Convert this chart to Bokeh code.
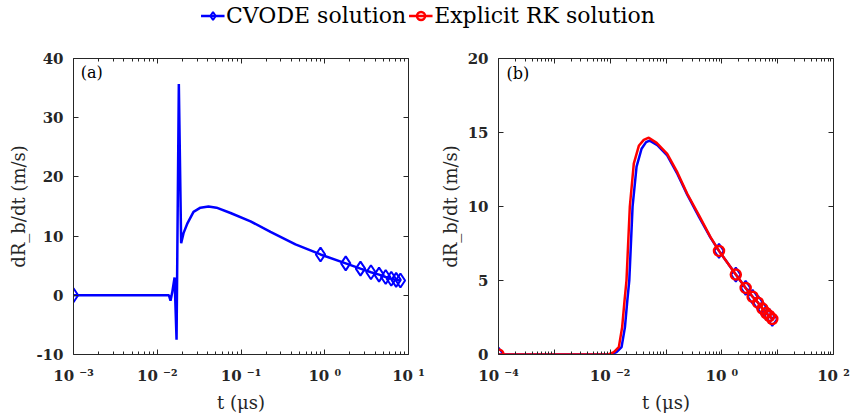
from bokeh.plotting import figure
from bokeh.models import (FixedTicker, CustomJSTickFormatter, LogAxis, LinearAxis,
                          Legend, LegendItem, Label)
from bokeh.layouts import column, row
from bokeh.embed import file_html
from bokeh.resources import INLINE

# ---------------- data ----------------
# panel (a): CVODE solution
ta = [0.001, 0.002, 0.005, 0.01, 0.0138, 0.0144, 0.0151, 0.0161, 0.0170, 0.0181,
      0.0193, 0.0206, 0.0230, 0.0271, 0.0328, 0.0409, 0.0510, 0.0750, 0.130, 0.225,
      0.447, 0.89, 1.78, 2.67, 3.56, 4.45, 5.34, 6.23, 7.12, 8.01]
ya = [0, 0, 0, 0, 0, -0.9, 0.5, 3.0, -7.5, 35.7,
      8.8, 10.5, 12.2, 14.1, 14.8, 15.0, 14.8, 13.9, 12.5, 10.7,
      8.6, 6.9, 5.4, 4.5, 3.9, 3.5, 3.1, 2.8, 2.6, 2.5]
ta_mk = [0.001, 0.89, 1.78, 2.67, 3.56, 4.45, 5.34, 6.23, 7.12, 8.01]
ya_mk = [0, 6.9, 5.4, 4.5, 3.9, 3.5, 3.1, 2.8, 2.6, 2.5]

# panel (b): CVODE (blue) and explicit RK (red)
tb = [0.0001, 0.001, 0.005, 0.0105, 0.0130, 0.0160, 0.0184, 0.0203, 0.0220, 0.0252,
      0.0297, 0.0365, 0.0440, 0.0510, 0.0700, 0.105, 0.160, 0.240, 0.390, 0.627,
      0.89, 1.78, 2.67, 3.56, 4.45, 5.34, 6.23, 7.12, 8.01]
yb = [0, 0, 0, 0.02, 0.16, 0.5, 1.85, 3.65, 5.0, 10.0,
      12.7, 13.9, 14.35, 14.45, 14.15, 13.45, 12.2, 10.8, 9.3, 7.9,
      7.0, 5.4, 4.5, 3.9, 3.5, 3.1, 2.8, 2.6, 2.4]
tr = [0.0001, 0.001, 0.005, 0.0095, 0.01164, 0.01429, 0.0164, 0.0181, 0.0196, 0.0225,
      0.0265, 0.0326, 0.0400, 0.0492, 0.0680, 0.105, 0.160, 0.240, 0.390, 0.627,
      0.89, 1.78, 2.67, 3.56, 4.45, 5.34, 6.23, 7.12, 8.01]
yr = [0, 0, 0, 0.02, 0.16, 0.5, 1.85, 3.65, 5.0, 10.0,
      12.9, 14.1, 14.5, 14.65, 14.3, 13.55, 12.3, 10.86, 9.4, 7.93,
      7.0, 5.4, 4.5, 3.9, 3.5, 3.1, 2.8, 2.6, 2.4]
tb_mk = [0.0001, 0.89, 1.78, 2.67, 3.56, 4.45, 5.34, 6.23, 7.12, 8.01]
yb_mk = [0, 7.0, 5.4, 4.5, 3.9, 3.5, 3.1, 2.8, 2.6, 2.4]
yr_mk = [0, 7.0, 5.4, 4.5, 3.9, 3.5, 3.1, 2.8, 2.6, 2.4]

# ticks
xa_ticks = [0.001, 0.01, 0.1, 1, 10]
xa_labels = ["10 ⁻³", "10 ⁻²", "10 ⁻¹", "10 ⁰", "10 ¹"]
xb_ticks = [0.0001, 0.001, 0.01, 0.1, 1, 10, 100]
xb_labels = ["10 ⁻⁴", " ", "10 ⁻²", " ", "10 ⁰", " ", "10 ²"]
ya_ticks = [-10, 0, 10, 20, 30, 40]
yb_ticks = [0, 5, 10, 15, 20]

legend_labels = ["CVODE solution", "Explicit RK solution"]
panel_tags = ["(a)", "(b)"]

BLUE = "#0000ff"
RED = "#ff0000"
AX = "#262626"
SERIF = "DejaVu Serif"


def minor_for(decades):
    out = []
    for d in decades[:-1]:
        for k in range(2, 10):
            out.append(d * k)
    return out


def make_panel(width, left, right, xr, yr_, xticks, xlabels, yticks, ylabel_text):
    p = figure(width=width, height=389, x_axis_type="log", x_range=xr, y_range=yr_,
               toolbar_location=None, output_backend="svg",
               min_border_left=left, min_border_right=right,
               min_border_top=28, min_border_bottom=65)
    p.grid.visible = False
    p.outline_line_color = None
    p.background_fill_color = "white"
    p.border_fill_color = "white"

    xt = FixedTicker(ticks=xticks, minor_ticks=minor_for(xticks))
    fmt = CustomJSTickFormatter(args=dict(tvals=xticks, tlabels=xlabels), code="""
        for (let i = 0; i < tvals.length; i++) {
            if (Math.abs(Math.log10(tick) - Math.log10(tvals[i])) < 1e-6) return tlabels[i];
        }
        return " ";
    """)
    yt = FixedTicker(ticks=yticks, minor_ticks=[])
    yfmt = CustomJSTickFormatter(code="return tick.toFixed(0);")

    xa = p.xaxis[0]
    xa.ticker = xt
    xa.formatter = fmt
    xa.axis_label = "t (μs)"
    ya_ = p.yaxis[0]
    ya_.ticker = yt
    ya_.formatter = yfmt
    ya_.axis_label = ylabel_text

    for ax in (xa, ya_):
        ax.axis_line_color = AX
        ax.major_tick_line_color = AX
        ax.minor_tick_line_color = AX
        ax.major_tick_in = 5
        ax.major_tick_out = 0
        ax.minor_tick_in = 3
        ax.minor_tick_out = 0
        ax.major_label_text_font = SERIF
        ax.major_label_text_font_style = "bold"
        ax.major_label_text_font_size = "15px"
        ax.major_label_text_color = AX
        ax.axis_label_text_font = SERIF
        ax.axis_label_text_font_style = "normal"
        ax.axis_label_text_font_size = "18px"
        ax.axis_label_text_color = AX
    xa.major_label_standoff = 12
    xa.axis_label_standoff = 4
    ya_.major_label_standoff = 10
    ya_.axis_label_standoff = 4
    ya_.minor_tick_line_color = None

    top = LogAxis(ticker=xt, major_label_text_font_size="1px", major_label_text_color=None,
                  major_label_standoff=0,
                  axis_line_color=AX, major_tick_line_color=AX, minor_tick_line_color=AX,
                  major_tick_in=5, major_tick_out=0, minor_tick_in=3, minor_tick_out=0)
    rgt = LinearAxis(ticker=yt, major_label_text_font_size="1px", major_label_text_color=None,
                     major_label_standoff=0,
                     axis_line_color=AX, major_tick_line_color=AX, minor_tick_line_color=None,
                     major_tick_in=5, major_tick_out=0)
    p.add_layout(top, "above")
    p.add_layout(rgt, "right")
    return p


pa = make_panel(427, 73, 19, (1e-3, 10), (-10, 40), xa_ticks, xa_labels, ya_ticks,
                "dR_b/dt (m/s)")
pa.line(ta, ya, line_color=BLUE, line_width=2.5)
pa.scatter(ta_mk, ya_mk, marker="diamond", size=14, line_color=BLUE, line_width=2,
           fill_color=None)
pa.add_layout(Label(x=1.22e-3, y=39.3, text=panel_tags[0], text_font=SERIF,
                    text_font_size="16px", text_baseline="top", text_color="black"))

pb = make_panel(428, 71, 22, (1e-4, 100), (0, 20), xb_ticks, xb_labels, yb_ticks,
                "dR_b/dt (m/s)")
pb.line(tb, yb, line_color=BLUE, line_width=2.5)
pb.scatter(tb_mk, yb_mk, marker="diamond", size=14, line_color=BLUE, line_width=2,
           fill_color=None)
pb.line(tr, yr, line_color=RED, line_width=2.5)
pb.scatter(tb_mk, yr_mk, marker="circle", size=10, line_color=RED, line_width=2.5,
           fill_color=None)
pb.add_layout(Label(x=1.39e-4, y=19.65, text=panel_tags[1], text_font=SERIF,
                    text_font_size="16px", text_baseline="top", text_color="black"))

# legend strip on top (legend renderers hold a point outside the visible range)
lf = figure(width=855, height=30, toolbar_location=None, output_backend="svg",
            min_border=0, x_range=(0, 1), y_range=(0, 1))
lf.axis.visible = False
lf.grid.visible = False
lf.outline_line_color = None
hidden_x = [5, 6]
hidden_y = [5, 6]
bl = lf.line(hidden_x, hidden_y, line_color=BLUE, line_width=2.5)
bm = lf.scatter(hidden_x, hidden_y, marker="diamond", size=14, line_color=BLUE,
                line_width=2, fill_color=None)
rl = lf.line(hidden_x, hidden_y, line_color=RED, line_width=2.5)
rm = lf.scatter(hidden_x, hidden_y, marker="circle", size=10, line_color=RED,
                line_width=2.5, fill_color=None)
leg = Legend(items=[LegendItem(label=legend_labels[0], renderers=[bl, bm]),
                    LegendItem(label=legend_labels[1], renderers=[rl, rm])],
             location="center", orientation="horizontal",
             label_text_font=SERIF, label_text_font_size="22px", label_text_color="black",
             border_line_color=None, background_fill_alpha=0,
             padding=0, margin=0, spacing=2, glyph_width=24, glyph_height=20,
             label_standoff=2)
lf.add_layout(leg, "center")

layout = column(lf, row(pa, pb))
open("out.html", "w").write(file_html(layout, INLINE))
